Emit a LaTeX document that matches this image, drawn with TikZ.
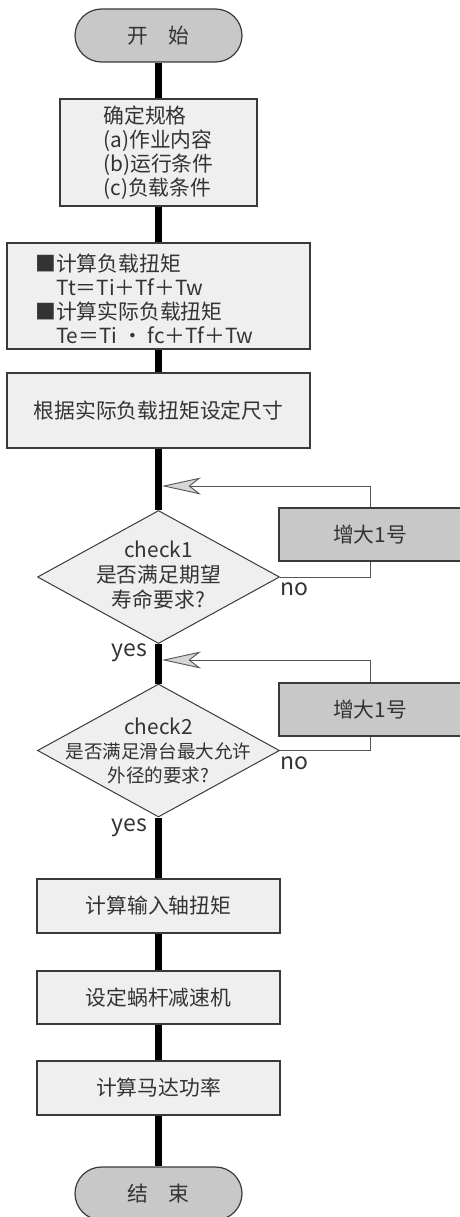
\documentclass[tikz,border=0pt]{standalone}
\usepackage{fontspec}
\setmainfont{Noto Sans CJK SC}
\usetikzlibrary{shapes.geometric,arrows.meta}
\definecolor{termgray}{HTML}{C8C8C8}
\definecolor{boxgray}{HTML}{EFEFEF}
\definecolor{edgegray}{HTML}{3A3A3A}
\definecolor{txtgray}{HTML}{333333}
\definecolor{thingray}{HTML}{555555}
\definecolor{arrgray}{HTML}{D6D6D6}
\begin{document}
\begin{tikzpicture}[x=1pt,y=-1pt,
  every node/.style={font=\fontsize{20.8}{24}\selectfont, text=txtgray},
  term/.style={draw=edgegray, fill=termgray, line width=1.2pt, minimum width=167pt, minimum height=53pt, rounded corners=26.5pt, inner sep=0pt},
  proc/.style={draw=edgegray, fill=boxgray, line width=1.2pt, inner sep=0pt},
  incbox/.style={draw=edgegray, fill=termgray, line width=1.2pt, inner sep=0pt, minimum width=182pt, minimum height=53pt},
  dec/.style={diamond, draw=edgegray, fill=boxgray, line width=1pt, minimum width=242pt, minimum height=133pt, inner sep=0pt},
  mainline/.style={line width=6.5pt, black},
  fb/.style={line width=0.9pt, thingray},
  fbarrow/.style={fb, -{Stealth[length=39pt,width=17pt,inset=11pt,fill=arrgray,line width=0.9pt]}},
  lbl/.style={inner sep=0pt, font=\fontsize{23}{24}\selectfont},
]
\useasboundingbox (0,0) rectangle (459,1217);

% main flow nodes
\node[term] (start) at (158.5,35.5) {开\hspace{1em}始};
\node[proc, minimum width=197pt, minimum height=107pt] (box1) at (158.5,152.5) {};
\node[proc, minimum width=303pt, minimum height=106pt] (box2) at (158.5,296) {};
\node[proc, minimum width=303pt, minimum height=75pt] (box3) at (158.5,410.5) {};
\node[dec] (d1) at (158.5,577) {};
\node[dec] (d2) at (158.5,750.5) {};
\node[proc, minimum width=243pt, minimum height=54pt] (box4) at (158.5,906) {};
\node[proc, minimum width=243pt, minimum height=53pt] (box5) at (158.5,997.5) {};
\node[proc, minimum width=243pt, minimum height=54pt] (box6) at (158.5,1088) {};
\node[term] (end) at (158.5,1193.5) {结\hspace{1em}束};

% side boxes
\node[incbox] (inc1) at (370,534.5) {增大1号};
\node[incbox] (inc2) at (370,709.5) {增大1号};

% texts
\node[align=left, inner sep=0pt] (t1) at (box1.center) {确定规格\\(a)作业内容\\(b)运行条件\\(c)负载条件};
\node[align=left, inner sep=0pt, anchor=west] (t2) at (35,299) {■计算负载扭矩\\\hspace*{1em}Tt＝Ti＋Tf＋Tw\\■计算实际负载扭矩\\\hspace*{1em}Te＝Ti · fc＋Tf＋Tw};
\node[inner sep=0pt] (t3) at (box3.center) {根据实际负载扭矩设定尺寸};
\node[align=center, inner sep=0pt, font=\fontsize{20.8}{25}\selectfont] (t4) at (158.5,575) {check1\\是否满足期望\\寿命要求?};
\node[align=center, inner sep=0pt, font=\fontsize{18.6}{24}\selectfont] (t5) at (158.5,751) {\fontsize{20.8}{24}\selectfont check2\\是否满足滑台最大允许\\外径的要求?};
\node[inner sep=0pt] (t6) at (box4.center) {计算输入轴扭矩};
\node[inner sep=0pt] (t7) at (box5.center) {设定蜗杆减速机};
\node[inner sep=0pt] (t8) at (box6.center) {计算马达功率};

% labels
\node[lbl, anchor=west] (no1) at (280,589) {no};
\node[lbl, anchor=east] (yes1) at (147,653) {yes};
\node[lbl, anchor=west] (no2) at (280,763) {no};
\node[lbl, anchor=east] (yes2) at (147,828) {yes};

% main line segments
\draw[mainline] (start.south) -- (box1.north);
\draw[mainline] (box1.south) -- (box2.north);
\draw[mainline] (box2.south) -- (box3.north);
\draw[mainline] (box3.south) -- (d1.north);
\draw[mainline] (d1.south) -- (d2.north);
\draw[mainline] (d2.south) -- (box4.north);
\draw[mainline] (box4.south) -- (box5.north);
\draw[mainline] (box5.south) -- (box6.north);
\draw[mainline] (box6.south) -- (end.north);

% feedback loops
\coordinate (m1) at (162,486);
\coordinate (m2) at (162,660);
\draw[fb] (d1.east) -| (inc1.south);
\draw[fbarrow] (inc1.north) |- (m1);
\draw[fb] (d2.east) -| (inc2.south);
\draw[fbarrow] (inc2.north) |- (m2);
\end{tikzpicture}
\end{document}
